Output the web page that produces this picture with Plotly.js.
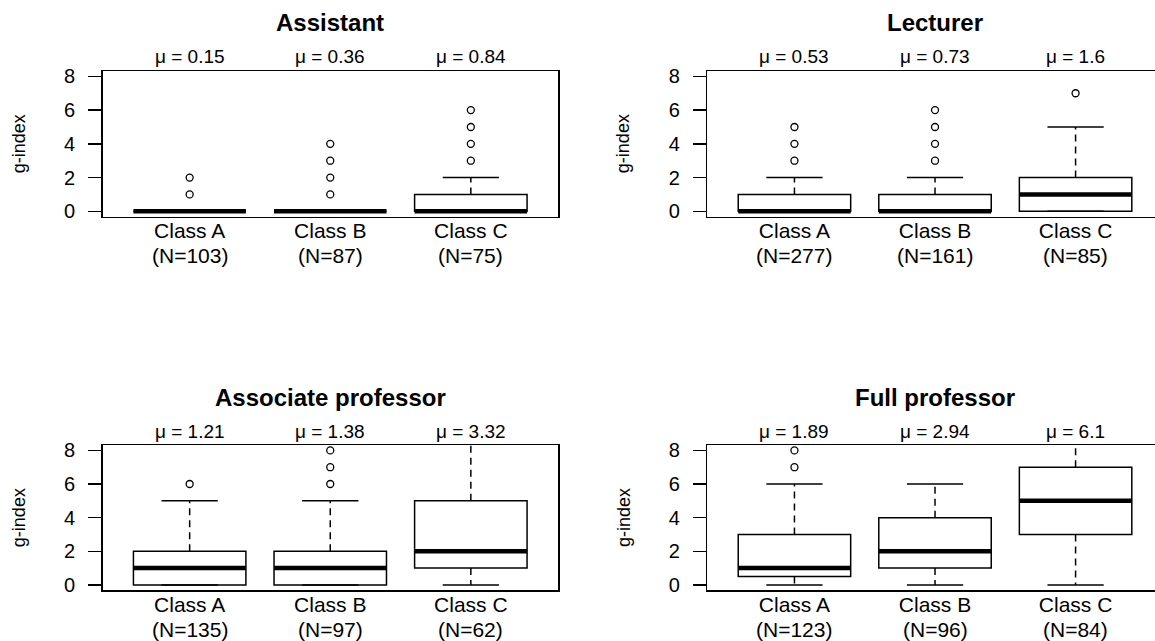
<!DOCTYPE html>
<html>
<head>
<meta charset="utf-8">
<script src="https://cdn.plot.ly/plotly-3.0.1.min.js"></script>
<style>html,body{margin:0;padding:0;background:#fff;}#chart{width:1155px;height:641px;}</style>
</head>
<body>
<div id="chart"></div>
<script>
// ---------- data ----------
const panelTitles = ['Assistant', 'Lecturer', 'Associate professor', 'Full professor'];
const categories = ['Class A', 'Class B', 'Class C'];
const yTicks = [0, 2, 4, 6, 8];

const nAssistant = [103, 87, 75];
const meanAssistant = [0.15, 0.36, 0.84];
const q1Assistant = [0, 0, 0];
const medAssistant = [0, 0, 0];
const q3Assistant = [0, 0, 1];
const loAssistant = [0, 0, 0];
const hiAssistant = [0, 0, 2];
const outAssistant = [[1, 2], [1, 2, 3, 4], [3, 4, 5, 6]];

const nLecturer = [277, 161, 85];
const meanLecturer = [0.53, 0.73, 1.6];
const q1Lecturer = [0, 0, 0];
const medLecturer = [0, 0, 1];
const q3Lecturer = [1, 1, 2];
const loLecturer = [0, 0, 0];
const hiLecturer = [2, 2, 5];
const outLecturer = [[3, 4, 5], [3, 4, 5, 6], [7]];

const nAssociate = [135, 97, 62];
const meanAssociate = [1.21, 1.38, 3.32];
const q1Associate = [0, 0, 1];
const medAssociate = [1, 1, 2];
const q3Associate = [2, 2, 5];
const loAssociate = [0, 0, 0];
const hiAssociate = [5, 5, 11];
const outAssociate = [[6], [6, 7, 8], []];

const nFull = [123, 96, 84];
const meanFull = [1.89, 2.94, 6.1];
const q1Full = [0.5, 1, 3];
const medFull = [1, 2, 5];
const q3Full = [3, 4, 7];
const loFull = [0, 0, 0];
const hiFull = [6, 6, 13];
const outFull = [[7, 8], [], []];

// ---------- style ----------
const FONT = 'Liberation Sans, Arial, sans-serif';
const BOXWEX = 0.8, STAPLE = 0.5;
const LW = 1.5;

const panels = [
  {n: nAssistant, mean: meanAssistant, q1: q1Assistant, med: medAssistant, q3: q3Assistant, lo: loAssistant, hi: hiAssistant, out: outAssistant},
  {n: nLecturer, mean: meanLecturer, q1: q1Lecturer, med: medLecturer, q3: q3Lecturer, lo: loLecturer, hi: hiLecturer, out: outLecturer},
  {n: nAssociate, mean: meanAssociate, q1: q1Associate, med: medAssociate, q3: q3Associate, lo: loAssociate, hi: hiAssociate, out: outAssociate},
  {n: nFull, mean: meanFull, q1: q1Full, med: medFull, q3: q3Full, lo: loFull, hi: hiFull, out: outFull}
];

const W = 1155, H = 641;
const xDomains = [[102.5 / W, 558 / W], [707.3 / W, 1], [102.5 / W, 558 / W], [707.3 / W, 1]];
const yDomains = [[1 - 216.7 / H, 1 - 71 / H], [1 - 216.7 / H, 1 - 71 / H], [1 - 590.3 / H, 1 - 445 / H], [1 - 590.3 / H, 1 - 445 / H]];
const xRanges = [[0.38, 3.62], [0.38, 3.565], [0.38, 3.62], [0.38, 3.565]];

const traces = [];
const annotations = [];
const layout = {
  width: W, height: H,
  margin: {l: 0, r: 0, t: 0, b: 0},
  paper_bgcolor: 'white', plot_bgcolor: 'white',
  showlegend: false,
  font: {family: FONT, color: 'black'},
  annotations: annotations
};

panels.forEach((p, k) => {
  const idx = k + 1;
  const xa = idx === 1 ? 'x' : 'x' + idx;
  const ya = idx === 1 ? 'y' : 'y' + idx;
  const pos = categories.map((c, i) => i + 1);

  // box body (quartiles), whiskers drawn separately (dashed)
  traces.push({
    type: 'box', xaxis: xa, yaxis: ya,
    x: pos, q1: p.q1, median: p.med, q3: p.q3,
    lowerfence: p.q1, upperfence: p.q3,
    width: BOXWEX, whiskerwidth: STAPLE,
    fillcolor: 'white', line: {color: 'black', width: LW},
    boxpoints: false, hoverinfo: 'skip'
  });

  // dashed whiskers
  const wx = [], wy = [];
  pos.forEach((x, i) => {
    wx.push(x, x, null, x, x, null);
    wy.push(p.q3[i], p.hi[i], null, p.q1[i], p.lo[i], null);
  });
  traces.push({type: 'scatter', mode: 'lines', xaxis: xa, yaxis: ya, x: wx, y: wy,
    line: {color: 'black', width: LW, dash: '7px,5px'}, hoverinfo: 'skip'});

  // staples
  const sx = [], sy = [];
  const hw = BOXWEX * STAPLE / 2;
  pos.forEach((x, i) => {
    sx.push(x - hw, x + hw, null, x - hw, x + hw, null);
    sy.push(p.hi[i], p.hi[i], null, p.lo[i], p.lo[i], null);
  });
  traces.push({type: 'scatter', mode: 'lines', xaxis: xa, yaxis: ya, x: sx, y: sy,
    line: {color: 'black', width: LW}, hoverinfo: 'skip'});

  // thick median
  const mx = [], my = [];
  pos.forEach((x, i) => {
    mx.push(x - BOXWEX / 2, x + BOXWEX / 2, null);
    my.push(p.med[i], p.med[i], null);
  });
  traces.push({type: 'scatter', mode: 'lines', xaxis: xa, yaxis: ya, x: mx, y: my,
    line: {color: 'black', width: 4.5}, hoverinfo: 'skip'});

  // outliers
  const ox = [], oy = [];
  pos.forEach((x, i) => p.out[i].forEach(v => { ox.push(x); oy.push(v); }));
  traces.push({type: 'scatter', mode: 'markers', xaxis: xa, yaxis: ya, x: ox, y: oy,
    marker: {symbol: 'circle-open', size: 7, color: 'black', line: {width: 1.3, color: 'black'}},
    hoverinfo: 'skip'});

  const xKey = idx === 1 ? 'xaxis' : 'xaxis' + idx;
  const yKey = idx === 1 ? 'yaxis' : 'yaxis' + idx;
  const rightSide = (k % 2 === 1);
  layout[xKey] = {
    domain: xDomains[k], anchor: ya, range: xRanges[k],
    tickmode: 'array', tickvals: pos, ticktext: categories,
    ticks: '', showgrid: false, zeroline: false,
    showline: true, mirror: true, linecolor: 'black', linewidth: LW,
    tickfont: {family: FONT, size: 21, color: 'black'},
    ticklabelstandoff: -5, fixedrange: true
  };
  layout[yKey] = {
    domain: yDomains[k], anchor: xa, range: [-0.32, 8.32],
    tickmode: 'array', tickvals: yTicks, ticktext: yTicks.map(String),
    ticks: 'outside', ticklen: 13, tickwidth: LW, tickcolor: 'black',
    showgrid: false, zeroline: false,
    showline: true, mirror: !rightSide, linecolor: 'black', linewidth: LW,
    tickfont: {family: FONT, size: 20, color: 'black'},
    ticklabelstandoff: 9, fixedrange: true
  };

  // group sizes under the category labels
  pos.forEach((x, i) => {
    annotations.push({
      text: '(N=' + p.n[i] + ')', xref: xa, x: x, yref: ya + ' domain', y: 0,
      yshift: -39, xanchor: 'center', yanchor: 'middle', showarrow: false,
      font: {family: FONT, size: 21, color: 'black'}
    });
  });
  // panel title
  annotations.push({
    text: '<b>' + panelTitles[k] + '</b>', xref: xa, x: 2, yref: ya + ' domain', y: 1,
    yshift: 48, xanchor: 'center', yanchor: 'middle', showarrow: false,
    font: {family: FONT, size: 24, color: 'black'}
  });
  // mean labels
  pos.forEach((x, i) => {
    annotations.push({
      text: 'μ = ' + p.mean[i], xref: xa, x: x, yref: ya + ' domain', y: 1,
      yshift: 14, xanchor: 'center', yanchor: 'middle', showarrow: false,
      font: {family: FONT, size: 19, color: 'black'}
    });
  });
  // y axis title
  annotations.push({
    text: 'g-index', xref: xa + ' domain', x: 0, xshift: -84, yref: ya + ' domain', y: 0.5,
    xanchor: 'center', yanchor: 'middle', textangle: -90, showarrow: false,
    font: {family: FONT, size: 18, color: 'black'}
  });
});

Plotly.newPlot('chart', traces, layout, {displayModeBar: false, staticPlot: true});
</script>
</body>
</html>
